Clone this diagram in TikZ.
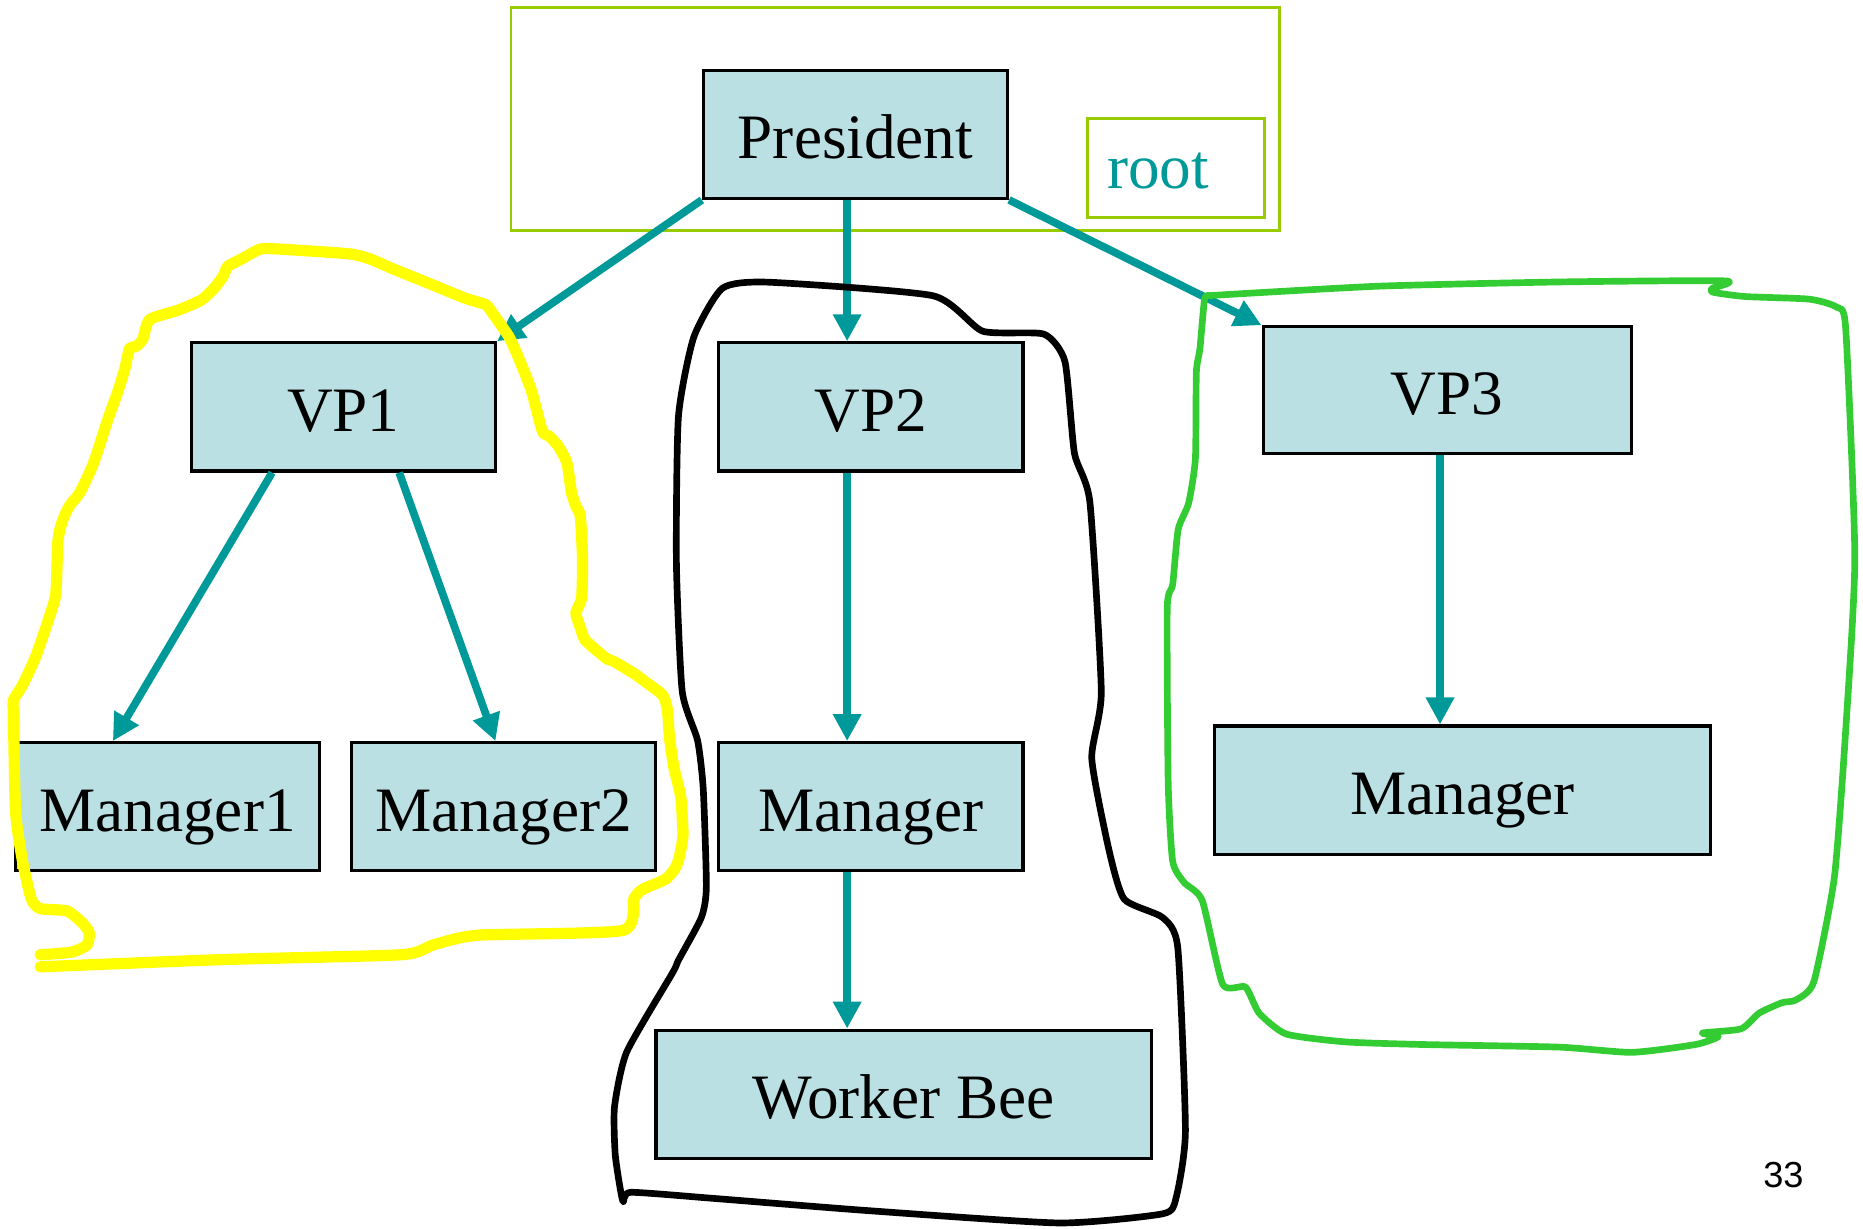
\documentclass[tikz,border=0pt]{standalone}
\usepackage{fontspec}
\setmainfont{Liberation Serif}
\newfontfamily\numfont{Liberation Sans}
\usetikzlibrary{arrows.meta,calc}
\definecolor{boxfill}{RGB}{187,224,227}
\definecolor{linkteal}{RGB}{0,153,153}
\definecolor{framegreen}{RGB}{153,204,0}
\definecolor{penyellow}{RGB}{255,255,0}
\definecolor{pengreen}{RGB}{51,204,51}
\begin{document}
\begin{tikzpicture}[x=0.011882cm, y=-0.011882cm,
  orgbox/.style={draw=black, line width=0.9pt, fill=boxfill, inner sep=0pt,
    minimum width=3.042cm, minimum height=1.283cm, font=\fontsize{18}{20}\selectfont,
    text height=13.9pt, text depth=0pt},
  link/.style={draw=linkteal, line width=2.2pt, -{Triangle[length=0.27cm,width=0.27cm]}},
  frameline/.style={draw=framegreen, line width=0.8pt, inner sep=0pt},
  pen/.style={line join=round, line cap=round}]
\useasboundingbox (0,0) rectangle (1568,1034);

% frame around the root
\node[frameline, minimum width=7.688cm, minimum height=2.234cm] (frame) at (753.5,100) {};
\node[frameline, minimum width=1.770cm, minimum height=0.986cm, text width=1.37cm,
  align=left, inner xsep=0.2cm, text=linkteal, font=\fontsize{18}{20}\selectfont,
  text height=11.5pt, text depth=0pt]
  (rootbox) at (989.5,141.5) {root};

% the tree
\node[orgbox] (pres) at (720,113) {President};
\node[orgbox] (vp1) at (289,342.5) {VP1};
\node[orgbox] (vp2) at (733,342.5) {VP2};
\node[orgbox, minimum width=3.683cm, minimum height=1.271cm] (vp3) at (1218,328.5) {VP3};
\node[orgbox] (mgr1) at (141,679) {Manager1};
\node[orgbox] (mgr2) at (424,679) {Manager2};
\node[orgbox] (mgr) at (733,679) {Manager};
\node[orgbox, minimum width=4.967cm] (mgr3) at (1231,665) {Manager};
\node[orgbox, minimum width=4.955cm] (bee) at (760.5,921) {Worker Bee};

\draw[link] (pres.south west) -- (vp1.north east);
\draw[link] ($(pres.south)+(-7,0)$) -- ($(vp2.north)+(-20,0)$);
\draw[link] (pres.south east) -- (vp3.north west);
\draw[link] ($(vp1.south)+(-60,0)$) -- ($(mgr1.north)+(-46,0)$);
\draw[link] ($(vp1.south)+(47,0)$) -- ($(mgr2.north)+(-7,0)$);
\draw[link] ($(vp2.south)+(-20,0)$) -- ($(mgr.north)+(-20,0)$);
\draw[link] ($(mgr.south)+(-20,0)$) -- ($(bee.north)+(-47.5,0)$);
\draw[link] ($(vp3.south)+(-6,0)$) -- ($(mgr3.north)+(-19,0)$);

% hand-drawn groupings
\draw[pen, draw=penyellow, line width=3.2pt] plot[smooth, tension=0.35] coordinates {
  (33.8,803.5) (60.1,801.4) (73.3,795.3) (75.1,785.1) (69.5,777) (56.4,766.7)
  (33.8,764.7) (26.3,756.5) (18.8,723.9) (13.1,683.1) (11.3,601.5) (11.3,589.3)
  (18.8,577.0) (30.1,552.6) (41.3,519.9) (47,499.5) (48.8,454.7) (52.6,438.3)
  (58.2,426.1) (67.6,413.9) (78.9,389.4) (90.2,354.7) (99.6,328.2) (105.2,309.8)
  (109,293.5) (114.6,291.5) (120.2,285.4) (125.9,269.0) (150.3,260.9) (169.1,252.7)
  (180.3,242.5) (187.9,232.3) (191.6,224.2) (202.9,218.1) (214.2,211.9) (223.5,209.1)
  (270.5,211.9) (296.8,214) (311.8,218.1) (330.6,226.2) (360.7,238.4) (390.7,250.7)
  (403.9,254.8) (409.5,256.8) (417,267) (428.3,283.3) (435.8,299.6) (447.1,328.2)
  (456.5,362.9) (462.1,367) (469.6,375.1) (477.1,389.4) (480.9,413.9) (484.7,426.1)
  (488.4,434.3) (490.3,471) (489.5,503.6) (484.7,515.9) (488.4,528.1) (492.2,538.3)
  (503.4,548.5) (511,554.6) (516.6,556.7) (533.5,566.8) (544.8,575) (557.9,585.2)
  (561.7,597.4) (563.6,622) (567.3,646.4) (573,670.9) (574.8,703.5) (571.1,723.9)
  (567.3,732.1) (559.8,740.2) (541,748.4) (533.5,756.5) (524.1,783.1) (402,787.1)
  (364.4,795.3) (338.1,803.5) (187.9,807.6) (33.8,813.7)};

\draw[pen, draw=black, line width=1.9pt] plot[smooth cycle, tension=0.35] coordinates {
  (608,242.6) (646.7,237.5) (785.2,248.9) (827,278.7) (878.5,281.2) (896.3,304.3)
  (904.3,381.5) (917.3,422.6) (926.9,582) (918.9,638.5) (933.4,715.6) (946.2,756.8)
  (978.5,772.2) (991.3,797.8) (997.7,952.1) (989.7,1008.7) (978.5,1021.6) (891.4,1029.3)
  (730.4,1018.9) (601.6,1008.7) (530.8,1003.5) (524.3,1011.3) (517.9,972.7) (517.2,931.6)
  (527.5,885.3) (566.2,818.5) (571,808.2) (590.3,772.2) (594.5,746.5) (591.9,664.2)
  (587.1,623.1) (574.2,582) (569.3,474) (571,350.6) (583.9,283.8)};

\draw[pen, draw=pengreen, line width=1.9pt] plot[smooth, tension=0.35] coordinates {
  (1017.6,248.8) (1159.2,240.9) (1312.3,237.3) (1452,236.4) (1440.5,243) (1442.4,246.1)
  (1469.2,249.6) (1522.8,251.8) (1545.8,258.5) (1553.4,276) (1561.1,469.7) (1553.4,615)
  (1543.9,738.3) (1526.6,826.3) (1511.3,841.7) (1499.8,843.9) (1480.7,852.6) (1465.4,865.9)
  (1432.8,869.4) (1446.2,872.5) (1427.1,879.1) (1373.5,885.7) (1312.3,881.3) (1197.5,879.1)
  (1132.4,876.9) (1082.6,870.3) (1059.7,852.6) (1048.2,830.7) (1029.1,828.5) (1011.9,758)
  (996.6,742.7) (987,725) (983.2,659) (982.4,511.5) (987,491.8) (991.6,445.6)
  (1000.4,423.5) (1006.1,386.1) (1006.9,313.4) (1009.9,293.6) (1013.8,251.8) (1017.6,248.8)};

% slide number
\node[font=\numfont\fontsize{10.3}{12}\selectfont, inner sep=0pt] (pagenum) at (1501,989) {33};
\end{tikzpicture}
\end{document}
